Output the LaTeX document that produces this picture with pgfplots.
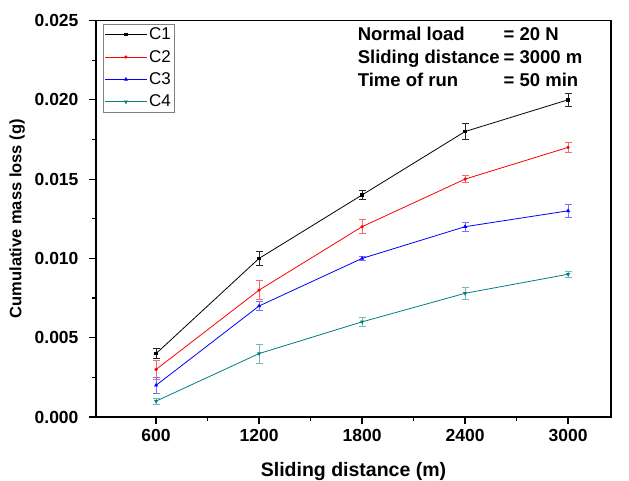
\documentclass[border=0pt]{standalone}
\usepackage{fontspec}
\setmainfont{Liberation Sans}
\usepackage{pgfplots}
\usepackage{pgfplotstable}
\pgfplotsset{compat=1.18}
\definecolor{cfour}{RGB}{0,128,128}
\pgfplotstableread{
x y e
600 0.0040 0.0003
1200 0.0100 0.00045
1800 0.0140 0.0003
2400 0.0180 0.0005
3000 0.0200 0.0004
}\Cone
\pgfplotstableread{
x y e
600 0.0030 0.0006
1200 0.0080 0.0006
1800 0.0120 0.00045
2400 0.0150 0.00023
3000 0.0170 0.0003
}\Ctwo
\pgfplotstableread{
x y e
600 0.0020 0.0005
1200 0.0070 0.0003
1800 0.0100 0.0001
2400 0.0120 0.0003
3000 0.0130 0.0004
}\Cthree
\pgfplotstableread{
x y e
600 0.0010 0.0002
1200 0.0040 0.0006
1800 0.0060 0.0003
2400 0.0078 0.0004
3000 0.0090 0.0002
}\Cfour
\begin{document}
\begin{tikzpicture}
\useasboundingbox (-96pt,-63pt) rectangle (533pt,417pt);
\begin{axis}[
  scale only axis,
  width=515pt, height=396.5pt,
  xmin=250, xmax=3250,
  ymin=0, ymax=0.025,
  xtick={600,1200,1800,2400,3000},
  ytick={0,0.005,0.01,0.015,0.02,0.025},
  minor x tick num=1,
  minor y tick num=1,
  xtick pos=bottom, ytick pos=left,
  tick align=outside,
  major tick length=7pt,
  minor tick length=4pt,
  every tick/.style={black, line width=1.2pt},
  axis line style={line width=1.6pt},
  scaled y ticks=false,
  /pgf/number format/assume math mode=true,
  yticklabel style={/pgf/number format/.cd, fixed, fixed zerofill, precision=3, /tikz/.cd, xshift=-7pt},
  xticklabel style={/pgf/number format/.cd, 1000 sep={}, /tikz/.cd, yshift=-2pt},
  ticklabel style={font=\bfseries\fontsize{17.5}{20}\selectfont},
  xlabel={\bfseries Sliding distance (m)},
  ylabel={\bfseries Cumulative mass loss (g)},
  xlabel style={font=\fontsize{19.5}{22}\selectfont, at={(axis description cs:0.5,-0.137)}, anchor=center},
  ylabel style={font=\fontsize{16.5}{19}\selectfont, at={(axis description cs:-0.153,0.5)}, anchor=center},
  legend style={at={(rel axis cs:0.013,0.992)}, anchor=north west,
    draw=gray, line width=0.6pt, font=\fontsize{17}{20}\selectfont,
    row sep=5pt, inner sep=2pt},
  legend cell align=left,
  legend image code/.code={\draw[#1, line width=0.8pt] (0cm,0cm) -- (0.7cm,0cm) -- (1.45cm,0cm); \draw[#1] plot coordinates {(0.72cm,0cm)};},
  clip=false,
]
\addplot[black, line width=0.8pt, mark=square*, mark size=1.2pt,
  error bars/.cd, y dir=both, y explicit,
  error bar style={black!85, line width=0.8pt},
  error mark options={rotate=90, mark size=3.5pt, black!85, line width=0.8pt}]
  table[x=x, y=y, y error=e] {\Cone};
\addlegendentry{C1}
\addplot[red, line width=0.8pt, mark=*, mark size=1.2pt,
  error bars/.cd, y dir=both, y explicit,
  error bar style={red!60, line width=0.8pt},
  error mark options={rotate=90, mark size=3.5pt, red!60, line width=0.8pt}]
  table[x=x, y=y, y error=e] {\Ctwo};
\addlegendentry{C2}
\addplot[blue, line width=0.8pt, mark=triangle*, mark size=1.6pt,
  error bars/.cd, y dir=both, y explicit,
  error bar style={blue!55, line width=0.8pt},
  error mark options={rotate=90, mark size=3.5pt, blue!55, line width=0.8pt}]
  table[x=x, y=y, y error=e] {\Cthree};
\addlegendentry{C3}
\addplot[cfour, line width=0.8pt, mark=triangle*, mark options={rotate=180}, mark size=1.6pt,
  error bars/.cd, y dir=both, y explicit,
  error bar style={cfour!55, line width=0.8pt},
  error mark options={rotate=90, mark size=3.5pt, cfour!55, line width=0.8pt}]
  table[x=x, y=y, y error=e] {\Cfour};
\addlegendentry{C4}
\node[anchor=north west, inner sep=0pt, font=\bfseries\fontsize{18.5}{23}\selectfont]
  at (rel axis cs:0.508,0.99) {%
  \begin{tabular}{@{}l@{\hspace{4pt}}l@{}}
  Normal load & = 20 N\\
  Sliding distance & = 3000 m\\
  Time of run & = 50 min
  \end{tabular}};
\end{axis}
\end{tikzpicture}
\end{document}
